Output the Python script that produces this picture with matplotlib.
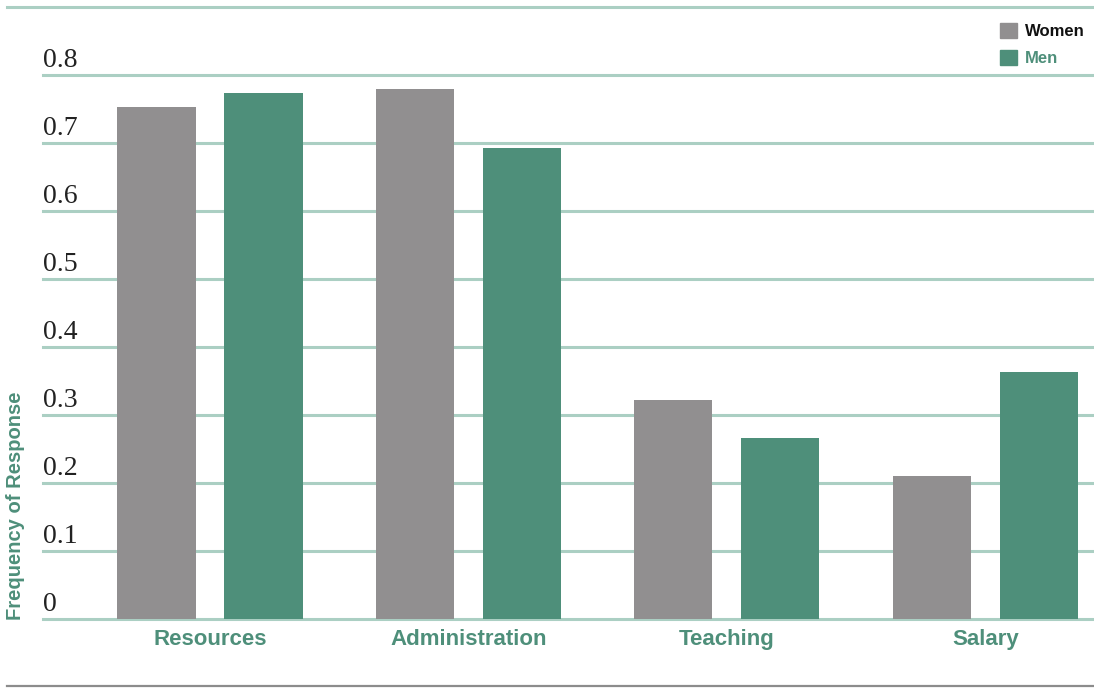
import matplotlib.pyplot as plt
import numpy as np
from matplotlib.lines import Line2D
from matplotlib.patches import Patch

# survey results: share of respondents naming each area
categories = ["Resources", "Administration", "Teaching", "Salary"]
women = [0.753, 0.779, 0.322, 0.210]
men = [0.774, 0.693, 0.266, 0.363]
y_ticks = [0, 0.1, 0.2, 0.3, 0.4, 0.5, 0.6, 0.7, 0.8]
y_tick_labels = ["0", "0.1", "0.2", "0.3", "0.4", "0.5", "0.6", "0.7", "0.8"]

GRAY = "#918f90"
GREEN = "#4e8f7a"
GRID = "#abcfc3"
SANS = ["Liberation Sans", "DejaVu Sans"]

fig = plt.figure(figsize=(10.94, 6.88), dpi=100)
ax = fig.add_axes([43 / 1094, 1 - 619 / 688, 1 - 43 / 1094, 612 / 688])

x = np.arange(len(categories))
width = 0.302
offset = 0.207

ax.bar(x - offset, women, width, color=GRAY, zorder=3)
ax.bar(x + offset, men, width, color=GREEN, zorder=3)

ax.set_xlim(-0.646, 3.42)
ax.set_ylim(0, 0.9)

# horizontal rules behind the bars, tick values sit on top of each rule
for val, lab in zip(y_ticks, y_tick_labels):
    ax.axhline(val, color=GRID, lw=2.2, zorder=1, clip_on=False)
    ax.text(0.0, val + 0.003, lab, transform=ax.get_yaxis_transform(),
            ha="left", va="bottom", fontsize=20, color="#222222",
            family=["Liberation Serif", "DejaVu Serif"])
ax.axhline(0.9, xmin=-36 / 1051, xmax=1, color=GRID, lw=2.2,
           clip_on=False, zorder=1)

for s in ax.spines.values():
    s.set_visible(False)
ax.set_yticks([])
ax.set_xticks(x)
ax.set_xticklabels(categories, fontsize=16, fontweight="bold",
                   color=GREEN, family=SANS)
ax.tick_params(axis="x", length=0, pad=7)

fig.text(16 / 1094, 1 - 620 / 688, "Frequency of Response", rotation=90,
         ha="center", va="bottom", fontsize=14.5, fontweight="bold",
         color=GREEN, family=SANS)

handles = [Patch(color=GRAY), Patch(color=GREEN)]
fig.legend(handles, ["Women", "Men"], loc="upper right",
           bbox_to_anchor=(1100 / 1094, 1 - 8 / 688), frameon=False,
           handlelength=1.0, handleheight=1.0, handletextpad=0.5,
           labelspacing=0.65, labelcolor=["#111111", GREEN],
           prop={"family": SANS, "weight": "bold", "size": 12})

# closing rule along the bottom edge
fig.add_artist(Line2D([7 / 1094, 1.0], [1 - 686 / 688] * 2,
                      color="#8c8c8c", lw=1.6))

fig.savefig("out.png", dpi=100)
